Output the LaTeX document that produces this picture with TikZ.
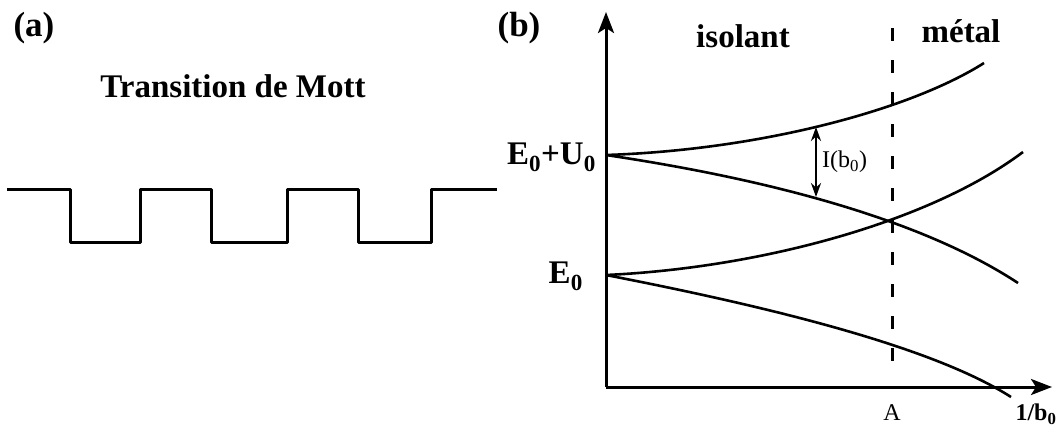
\documentclass[tikz,border=0pt]{standalone}
\usepackage{fontspec}
\setmainfont{Liberation Serif}
\usetikzlibrary{arrows.meta, positioning}

\begin{document}
\begin{tikzpicture}[x=1pt, y=-1pt,
    curve/.style={line width=2.6pt},
    axis/.style={line width=3pt, -{Stealth[length=21pt, width=16pt, inset=5pt]}},
    lbl/.style={font=\bfseries\fontsize{33}{36}\selectfont, inner sep=0pt},
    panel/.style={font=\bfseries\fontsize{35}{38}\selectfont, inner sep=0pt},
    small/.style={font=\fontsize{24}{28}\selectfont, inner sep=0pt}
  ]
    \useasboundingbox (0,0) rectangle (1063,434);

    % (a) Mott transition
    \node[panel] (pa) at (34,28) {(a)};
    \node[lbl] (title) at (233,86) {Transition de Mott};
    \draw[line width=3pt, line join=round]
      (7,189) -- (70,189) -- (70,242) -- (140,242) -- (140,189)
      -- (211,189) -- (211,242) -- (287,242) -- (287,189)
      -- (358,189) -- (358,242) -- (431,242) -- (431,189) -- (497,189);

    % (b) energy levels
    \node[panel] (pb) at (519,28) {(b)};
    \coordinate (orig) at (606,387);
    \coordinate (ytop) at (606,12);
    \coordinate (xend) at (1052,387);
    \coordinate (EU) at (606,155);
    \coordinate (E) at (606,275);

    \draw[axis] (orig) -- (ytop);
    \draw[axis] (orig) -- (xend);

    \draw[curve] (EU) .. controls (760,150) and (910,110) .. (984,63);
    \draw[curve] (EU) .. controls (740,175) and (910,212) .. (1018,283);
    \draw[curve] (E) .. controls (760,268) and (930,222) .. (1023,152);
    \draw[curve] (E) .. controls (760,305) and (930,345) .. (1011,397);

    % dashed boundary
    \coordinate (dtop) at (892,28);
    \coordinate (dbot) at (892,367);
    \draw[line width=3pt, dash pattern=on 13pt off 19pt] (dtop) -- (dbot);

    % gap arrow
    \coordinate (gtop) at (816,127);
    \coordinate (gbot) at (816,197);
    \draw[line width=2.4pt, {Stealth[length=14pt, width=10pt]}-{Stealth[length=14pt, width=10pt]}]
      (gtop) -- (gbot);
    \node[small, anchor=west] (gap) at (822,162) {I(b\textsubscript{0})};

    % labels
    \node[lbl, anchor=east] (lEU) at (596,157) {E\textsubscript{0}+U\textsubscript{0}};
    \node[lbl, anchor=east] (lE) at (583,276) {E\textsubscript{0}};
    \node[lbl] (iso) at (743,36) {isolant};
    \node[lbl] (met) at (961,31) {métal};
    \node[small] (lA) at (892,413) {A};
    \node[small, font=\bfseries\fontsize{24}{28}\selectfont] (lx) at (1036,414) {1/b\textsubscript{0}};
\end{tikzpicture}
\end{document}
